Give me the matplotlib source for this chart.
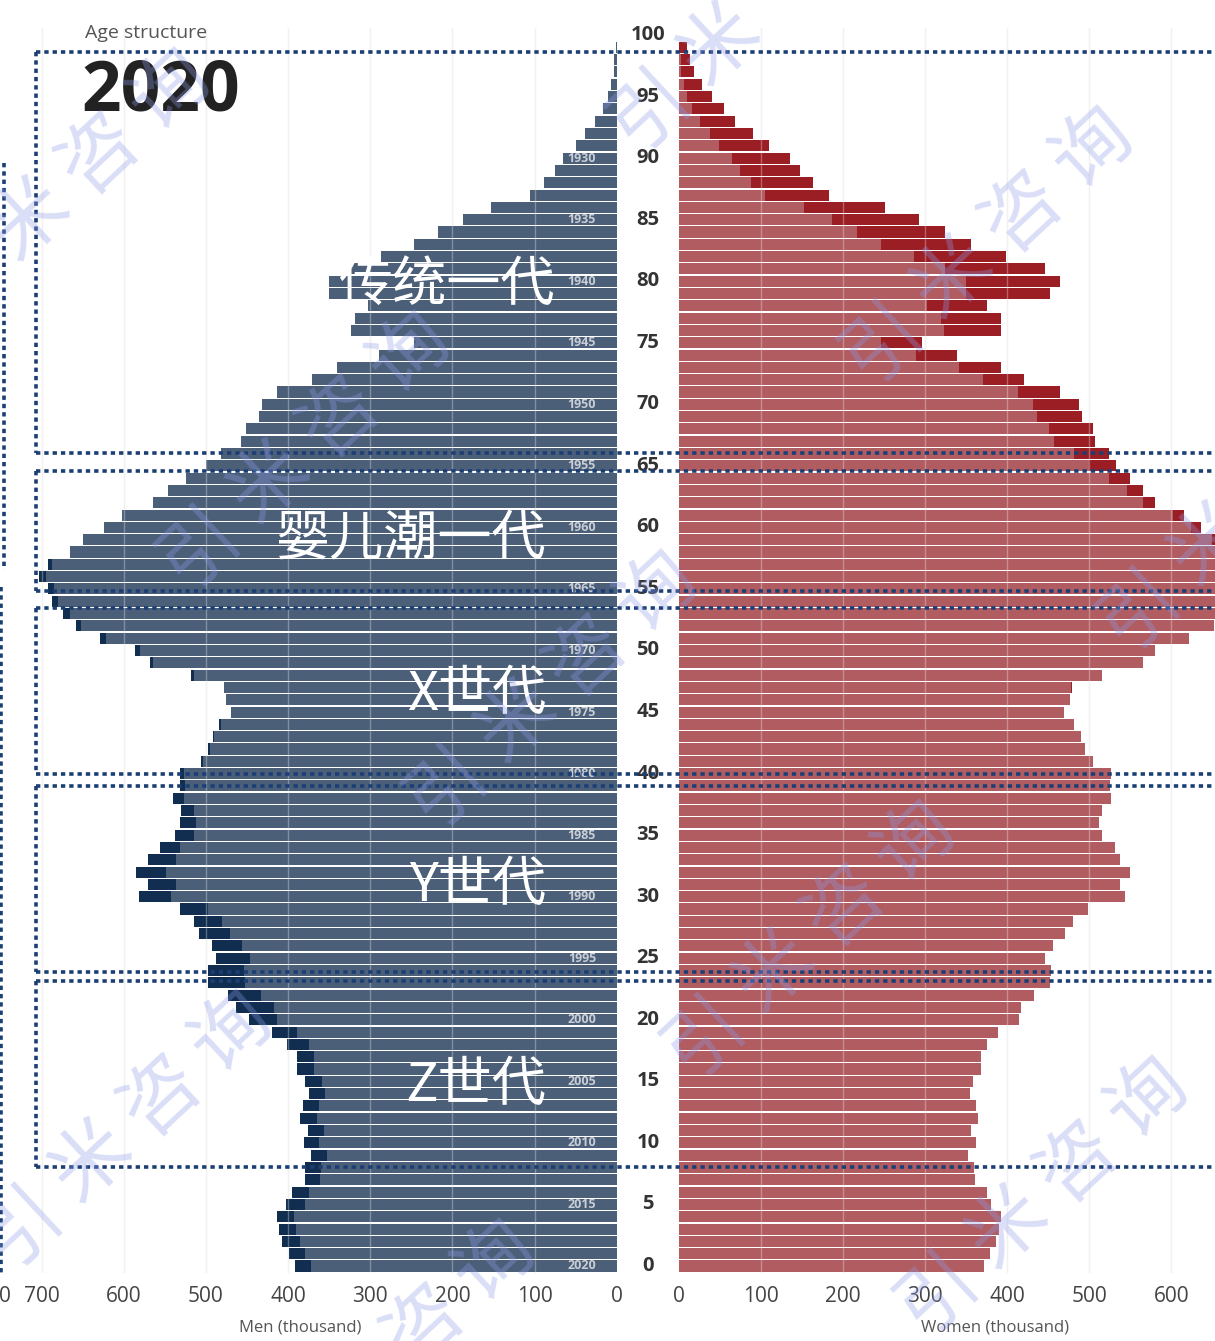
import matplotlib
matplotlib.use("Agg")
import matplotlib.pyplot as plt
import matplotlib.transforms as mtransforms
import numpy as np

# ---------------- data ----------------
ages = list(range(100))
men = [392, 399, 408, 411, 414, 402, 395, 379, 380, 372,
       381, 376, 385, 382, 375, 379, 389, 389, 401, 419,
       447, 463, 473, 497, 498, 488, 493, 508, 515, 532,
       581, 571, 585, 571, 556, 538, 532, 530, 540, 531,
       531, 506, 498, 492, 484, 470, 476, 478, 518, 568,
       586, 629, 658, 674, 687, 692, 703, 692, 666, 650,
       624, 602, 565, 546, 524, 500, 482, 457, 451, 436,
       432, 413, 371, 341, 289, 247, 323, 319, 303, 350,
       350, 325, 287, 247, 217, 187, 153, 105, 88, 75,
       65, 49, 38, 26, 17, 10, 7, 3, 3, 1]
women = [372, 379, 386, 390, 393, 380, 375, 361, 360, 353,
         362, 356, 365, 362, 355, 359, 368, 368, 375, 389,
         414, 417, 433, 452, 454, 446, 456, 471, 480, 498,
         543, 537, 549, 537, 531, 515, 512, 515, 527, 525,
         527, 504, 495, 490, 482, 469, 476, 479, 515, 565,
         580, 622, 652, 666, 680, 685, 695, 687, 672, 660,
         636, 615, 580, 566, 549, 532, 524, 507, 504, 491,
         488, 465, 420, 393, 339, 297, 392, 393, 375, 452,
         465, 446, 399, 356, 325, 293, 251, 183, 164, 148,
         136, 110, 91, 69, 55, 41, 29, 19, 14, 10]
age_ticks = list(range(0, 101, 5))
year_label_ages = list(range(0, 91, 5))
census_year = 2020
men_ticks = [700, 600, 500, 400, 300, 200, 100, 0]
women_ticks = [0, 100, 200, 300, 400, 500, 600]
generations = ["传统一代", "婴儿潮一代", "X世代", "Y世代", "Z世代"]
watermark_text = "引米咨询"

# ---------------- style ----------------
MEN_LIGHT = "#4b5f79"
MEN_DARK = "#112e50"
WOMEN_LIGHT = "#b05c61"
WOMEN_DARK = "#9b1e24"
BOX = "#1b3f75"
LAT = ["Open Sans", "DejaVu Sans"]
CJK = ["Noto Sans CJK SC", "DejaVu Sans"]

W, H = 1215, 1341
fig = plt.figure(figsize=(W / 100, H / 100), dpi=100)

PX = 0.8215          # pixels per thousand
ax_bottom_px, ax_top_px = 1273, 28
bottom = (H - ax_bottom_px) / H
height = (ax_bottom_px - ax_top_px) / H
left_end = 616.7
right_start = 678.5

axL = fig.add_axes([0, bottom, left_end / W, height])
axR = fig.add_axes([right_start / W, bottom, (W - right_start) / W, height])

men_a = np.array(men)
wom_a = np.array(women)
base = np.minimum(men_a, wom_a)

axL.barh(ages, base, height=0.9, color=MEN_LIGHT, zorder=2, linewidth=0)
axL.barh(ages, men_a - base, left=base, height=0.9, color=MEN_DARK, zorder=2, linewidth=0)
axR.barh(ages, base, height=0.9, color=WOMEN_LIGHT, zorder=2, linewidth=0)
axR.barh(ages, wom_a - base, left=base, height=0.9, color=WOMEN_DARK, zorder=2, linewidth=0)

axL.set_xlim(left_end / PX, 0)
axR.set_xlim(0, (W - right_start) / PX)
for ax in (axL, axR):
    ax.set_ylim(-0.57, 100.57)
    ax.set_yticks([])
    for s in ax.spines.values():
        s.set_visible(False)
    ax.tick_params(axis="x", length=0, pad=9, labelsize=15, labelcolor="#444444")
    ax.set_facecolor("none")

for v in men_ticks[:-1]:
    axL.axvline(v, color="#ebebeb", lw=1, zorder=0)
    axL.axvline(v, color="white", lw=1, alpha=0.3, zorder=3)
for v in women_ticks[1:]:
    axR.axvline(v, color="#ebebeb", lw=1, zorder=0)
    axR.axvline(v, color="white", lw=1, alpha=0.3, zorder=3)

axL.set_xticks(men_ticks)
axL.set_xticklabels([str(t) for t in men_ticks], family=LAT)
axR.set_xticks(women_ticks)
axR.set_xticklabels([str(t) for t in women_ticks], family=LAT)

# birth-year labels inside men's bars
for a in year_label_ages:
    axL.text(25, a, str(census_year - a), ha="right", va="center", fontsize=9,
             fontweight="bold", color="#c9ced6", family=LAT, zorder=4)

# age labels in the middle column
tr = mtransforms.blended_transform_factory(fig.transFigure, axL.transData)
for a in age_ticks:
    fig.text(648 / W, a, str(a), transform=tr, ha="center", va="center",
             fontsize=14.5, fontweight="bold", color="#333333", family=LAT)

# ---------------- overlay (pixel coordinates) ----------------
ov = fig.add_axes([0, 0, 1, 1], zorder=10)
ov.set_xlim(0, W)
ov.set_ylim(H, 0)
ov.axis("off")
ov.patch.set_alpha(0)

ov.text(85, 33, "Age structure", ha="left", va="center", fontsize=14,
        color="#555555", family=LAT)
ov.text(81, 92, str(census_year), ha="left", va="center", fontsize=50,
        fontweight="bold", color="#222222", family=LAT)
ov.text(300, 1328, "Men (thousand)", ha="center", va="center", fontsize=12,
        color="#555555", family=LAT)
ov.text(995, 1328, "Women (thousand)", ha="center", va="center", fontsize=12,
        color="#555555", family=LAT)
ov.text(5, 1297, "0", ha="center", va="center", fontsize=15, color="#444444", family=LAT)

# generation labels
gen_pos = [(555, 285), (546, 540), (546, 694), (546, 885), (546, 1085)]
for txt, (gx, gy) in zip(generations, gen_pos):
    ov.text(gx, gy, txt, ha="right", va="center", fontsize=39, color="white",
            family=CJK)

# dotted generation boxes
dot = dict(color=BOX, lw=2.6, linestyle=(0, (1.2, 1.1)), solid_capstyle="butt",
           dash_capstyle="butt")
boxes = [(51.7, 453), (471, 590.7), (607.7, 774), (786, 972), (980.7, 1166.7)]
bx = 35.5
for top, bot in boxes:
    ov.plot([bx, W], [top, top], **dot)
    ov.plot([bx, W], [bot, bot], **dot)
    ov.plot([bx, bx], [top, bot], **dot)
ov.plot([4, 4], [163, 570], **dot)
ov.plot([1, 1], [587, 1273], **dot)

# watermark
def watermark(x0, y0):
    for i, ch in enumerate(watermark_text):
        cx, cy = x0 + i * 70, y0 - i * 65
        if -15 < cx < W + 15 and -15 < cy < H + 15:
            ov.text(cx, cy, ch, rotation=43, ha="center", va="center",
                    fontsize=56, color="#8f9be8", alpha=0.33, family=CJK,
                    rotation_mode="anchor", zorder=20)

for (wx, wy) in [(-40, 285), (650, 110), (883, 343), (200, 548), (1140, 610),
                 (447, 787), (705, 1037), (22, 1227), (938, 1293),
                 (285, 1456)]:
    watermark(wx, wy)

fig.savefig("out.png", dpi=100)
